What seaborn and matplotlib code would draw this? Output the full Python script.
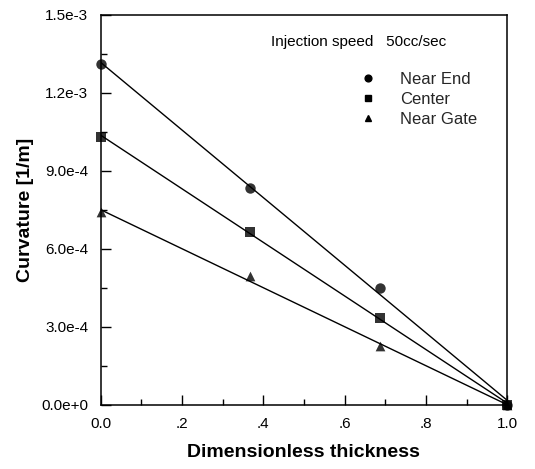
import matplotlib
matplotlib.use("Agg")
import matplotlib.pyplot as plt
from matplotlib.ticker import MultipleLocator, FixedLocator, FixedFormatter
import numpy as np
import pandas as pd
import seaborn as sns

# Measured curvature across the dimensionless thickness, per location
thickness = [0.0, 0.368, 0.687, 1.0]
near_end = [1.31e-3, 8.35e-4, 4.50e-4, 0.0]
center = [1.03e-3, 6.65e-4, 3.34e-4, 0.0]
near_gate = [7.40e-4, 4.95e-4, 2.24e-4, 0.0]

series_names = ["Near End", "Center", "Near Gate"]
series_markers = ["o", "s", "^"]
series_sizes = [7.5, 6.5, 7.0]

x_ticks = [0.0, 0.2, 0.4, 0.6, 0.8, 1.0]
x_tick_labels = ["0.0", ".2", ".4", ".6", ".8", "1.0"]
y_ticks = [0.0, 3.0e-4, 6.0e-4, 9.0e-4, 1.2e-3, 1.5e-3]
y_tick_labels = ["0.0e+0", "3.0e-4", "6.0e-4", "9.0e-4", "1.2e-3", "1.5e-3"]

df = pd.DataFrame({
    "thickness": thickness * 3,
    "curvature": near_end + center + near_gate,
    "location": sum([[n] * len(thickness) for n in series_names], []),
})

sns.set_theme(style="white")
plt.rcParams["font.family"] = ["Liberation Sans", "DejaVu Sans"]

fig = plt.figure(figsize=(5.35, 4.69), dpi=100)
ax = fig.add_axes([0.188, 0.137, 0.760, 0.832])

for name, mk, ms in zip(series_names, series_markers, series_sizes):
    sub = df[df["location"] == name]
    sns.regplot(data=sub, x="thickness", y="curvature", ax=ax, ci=None,
                truncate=True, marker=mk, color="black",
                scatter_kws={"s": ms ** 2, "linewidths": 0, "zorder": 3,
                             "clip_on": False},
                line_kws={"linewidth": 1.0, "color": "black", "zorder": 2})
    ax.plot([], [], linestyle="none", marker=mk, markersize=ms * 0.65,
            color="black", label=name)

ax.set_xlim(0.0, 1.0)
ax.set_ylim(0.0, 1.5e-3)
ax.xaxis.set_major_locator(FixedLocator(x_ticks))
ax.xaxis.set_major_formatter(FixedFormatter(x_tick_labels))
ax.xaxis.set_minor_locator(MultipleLocator(0.1))
ax.yaxis.set_major_locator(FixedLocator(y_ticks))
ax.yaxis.set_major_formatter(FixedFormatter(y_tick_labels))
ax.yaxis.set_minor_locator(MultipleLocator(1.5e-4))

ax.tick_params(axis="both", which="both", direction="in", top=False,
               right=False, bottom=True, left=True, labelsize=11,
               color="black", labelcolor="black")
ax.tick_params(axis="both", which="major", length=7, width=1.0, pad=9)
ax.tick_params(axis="both", which="minor", length=4, width=1.0)

for sp in ax.spines.values():
    sp.set_visible(True)
    sp.set_color("black")
    sp.set_linewidth(1.1)

ax.set_xlabel("Dimensionless thickness", fontsize=14, fontweight="bold",
              labelpad=9, color="black")
ax.set_ylabel("Curvature [1/m]", fontsize=14, fontweight="bold",
              labelpad=5, color="black")

ax.text(0.42, 0.93, "Injection speed   50cc/sec", transform=ax.transAxes,
        fontsize=11, color="black", va="center", ha="left")
ax.legend(loc="upper left", bbox_to_anchor=(0.622, 0.87), frameon=False,
          fontsize=12, handletextpad=1.4, labelspacing=0.3,
          borderaxespad=0, handlelength=1.0)

fig.savefig("out.png", dpi=100, facecolor="white")
